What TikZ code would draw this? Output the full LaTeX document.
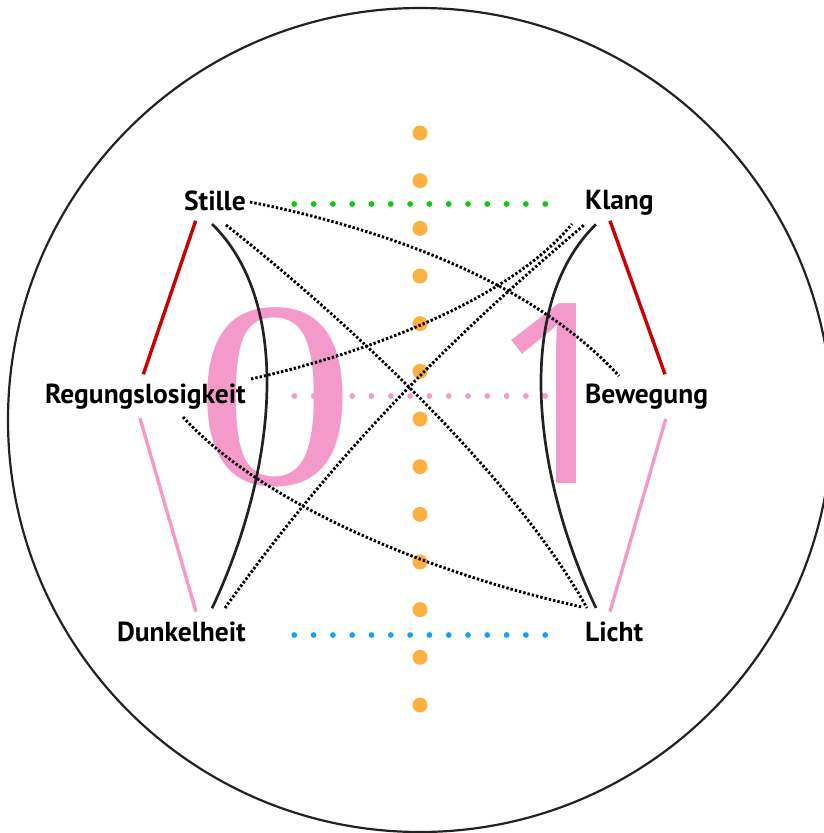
\documentclass[tikz,border=0pt]{standalone}
\usepackage{fontspec}
\setmainfont{PT Sans}
\newfontfamily\digitserif{Liberation Serif}
\newfontfamily\digitsans{Open Sans}
\definecolor{dk}{HTML}{222222}
\definecolor{rd}{HTML}{CC0000}
\definecolor{pk}{HTML}{F49ACB}
\definecolor{og}{HTML}{FBB040}
\definecolor{gr}{HTML}{11C811}
\definecolor{bl}{HTML}{13A0FF}
\tikzset{
  lab/.style={font=\fontsize{27.5}{32}\selectfont\bfseries, inner sep=0pt, text=black},
  solidc/.style={draw=dk, line width=2.7pt},
  dotc/.style={draw=black, line width=2.9pt, dash pattern=on 2.4pt off 2pt},
  redl/.style={draw=rd, line width=3.4pt},
  pinkl/.style={draw=pk, line width=3.4pt},
  bigdigit/.style={inner sep=0pt, text=pk},
}
\begin{document}
\begin{tikzpicture}[x=1pt,y=-1pt]
\useasboundingbox (0,0) rectangle (824,833);
\draw[dk, line width=2.2pt] (420,420) circle[radius=412pt];

% dotted rows
\foreach \i in {0,...,12} \fill[og] (420,133+47.667*\i) circle[radius=7.5pt];
\foreach \i in {0,...,13} {
  \fill[gr] (294.3+19.3*\i,204) circle[radius=2.9pt];
  \fill[pk] (294.3+19.3*\i,396) circle[radius=2.9pt];
  \fill[bl] (294.3+19.3*\i,635) circle[radius=2.9pt];
}

% big digits
\node[bigdigit, xscale=1.2, transform shape] (zero) at (275,397) {\fontsize{266}{266}\selectfont\digitserif 0};
\node[bigdigit] (one) at (561,394) {\fontsize{252}{252}\selectfont\digitsans 1};

% labels
\node[lab, anchor=base east] (stille) at (246,210) {Stille};
\node[lab, anchor=base west] (klang) at (585,209.5) {Klang};
\node[lab, anchor=base east] (regung) at (246,403.3) {Regungslosigkeit};
\node[lab, anchor=base west] (beweg) at (585,403.3) {Bewegung};
\node[lab, anchor=base east] (dunkel) at (246,641.7) {Dunkelheit};
\node[lab, anchor=base west] (licht) at (585,641.7) {Licht};

% connector end points
\coordinate (Sr) at (195.7,220.7);
\coordinate (Sc) at (212,224);
\coordinate (Sl) at (226,225);
\coordinate (Sb) at (250,202);
\coordinate (Kr) at (610,220.7);
\coordinate (Kc) at (596,224.3);
\coordinate (Ka) at (572,224);
\coordinate (Kb) at (584,225);
\coordinate (Rr) at (143.3,374.3);
\coordinate (Rp) at (140,418.3);
\coordinate (Rk) at (251,379);
\coordinate (Rl) at (183,417);
\coordinate (Br) at (665,374.3);
\coordinate (Bp) at (665.7,419);
\coordinate (Bs) at (619,376);
\coordinate (Dp) at (196,611.7);
\coordinate (Dc) at (212,608.3);
\coordinate (Dk) at (225,608);
\coordinate (Lp) at (610,611.7);
\coordinate (Lc) at (596,608);
\coordinate (Ls) at (587,608);
\coordinate (Lr) at (582,607);

% coloured side lines
\draw[redl] (Sr) -- (Rr);
\draw[redl] (Kr) -- (Br);
\draw[pinkl] (Rp) -- (Dp);
\draw[pinkl] (Bp) -- (Lp);

% solid curves
\draw[solidc] (Sc) .. controls (295,305) and (275,475) .. (Dc);
\draw[solidc] (Kc) .. controls (513,305) and (533,475) .. (Lc);

% dotted curves
\draw[dotc] (Sl) .. controls (340,315) and (510,470) .. (Ls);
\draw[dotc] (Sb) .. controls (400,232) and (539,288) .. (Bs);
\draw[dotc] (Rk) .. controls (351,357) and (505,305) .. (Ka);
\draw[dotc] (Dk) .. controls (345,440) and (464,327) .. (Kb);
\draw[dotc] (Rl) .. controls (263,505) and (432,574) .. (Lr);
\end{tikzpicture}
\end{document}
